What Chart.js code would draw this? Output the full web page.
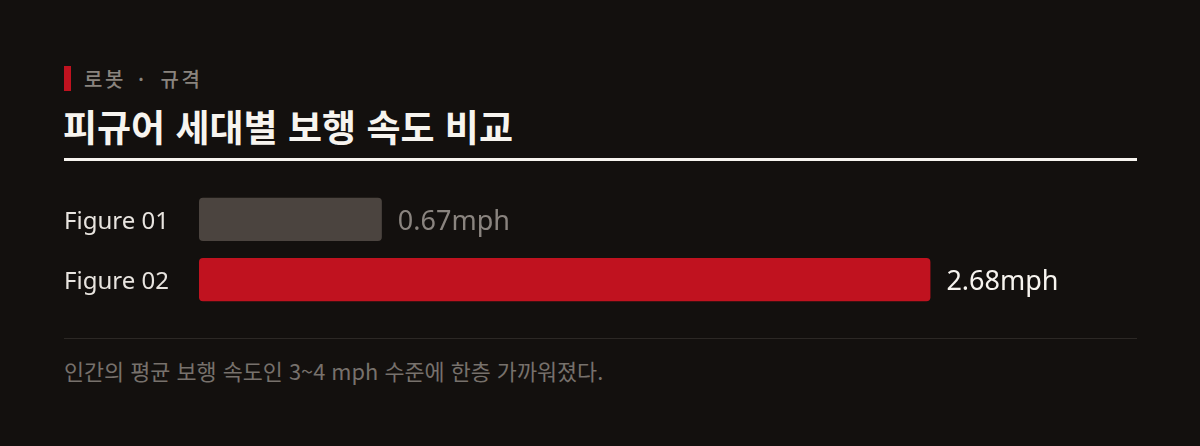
<!DOCTYPE html>
<html lang="ko">
<head>
<meta charset="utf-8">
<script src="https://cdn.jsdelivr.net/npm/chart.js@4.4.1/dist/chart.umd.min.js"></script>
<style>
  html, body { margin: 0; padding: 0; }
  body {
    width: 1200px; height: 446px; background: #13100e; overflow: hidden;
    font-family: "Noto Sans CJK KR", "Noto Sans", sans-serif; position: relative;
  }
  .kicker { position: absolute; left: 64px; top: 66px; height: 25px; display: flex; align-items: center; }
  .kicker .mark { width: 7px; height: 25px; background: #c0121f; margin-right: 13px; }
  .kicker span { color: #8a847f; font-size: 20px; font-weight: 500; letter-spacing: 2.5px; line-height: 25px; }
  .kicker .dot { margin: 0 6px 0 4px; }
  .title { position: absolute; left: 63px; top: 106px; color: #f7f4ef; font-size: 37px; font-weight: 700; line-height: 40px; }
  .rule { position: absolute; left: 64px; top: 158px; width: 1073px; height: 3px; background: #f7f4ef; }
  .chartBox { position: absolute; left: 64px; top: 175px; width: 1073px; height: 149px; }
  .divider { position: absolute; left: 64px; top: 338px; width: 1073px; height: 1px; background: #2c2825; }
  .note { position: absolute; left: 64px; top: 357px; color: #77716c; font-size: 21.8px; line-height: 28px; }
</style>
</head>
<body>
  <div class="kicker"><div class="mark"></div><span>로봇<span class="dot"> · </span>규격</span></div>
  <div class="title">피규어 세대별 보행 속도 비교</div>
  <div class="rule"></div>
  <div class="chartBox"><canvas id="speedChart"></canvas></div>
  <div class="divider"></div>
  <div class="note">인간의 평균 보행 속도인 3~4 mph 수준에 한층 가까워졌다.</div>

<script>
// data
const categories = ['Figure 01', 'Figure 02'];
const speedValues = [0.67, 2.68];
const valueLabels = ['0.67mph', '2.68mph'];
const barColors = ['#4b443f', '#c0121f'];
const valueColors = ['#8a847f', '#f7f4ef'];

const LATIN = '"Noto Sans", "Noto Sans CJK KR", sans-serif';

// draws "0.67mph" etc. right after each bar
const valueLabelPlugin = {
  id: 'valueLabels',
  afterDatasetsDraw(chart) {
    const ctx = chart.ctx;
    const meta = chart.getDatasetMeta(0);
    ctx.save();
    ctx.font = '27px ' + LATIN;
    ctx.textBaseline = 'middle';
    meta.data.forEach((bar, i) => {
      ctx.fillStyle = valueColors[i];
      ctx.fillText(valueLabels[i], bar.x + 16, bar.y + 3);
    });
    ctx.restore();
  }
};

const ctx = document.getElementById('speedChart');
new Chart(ctx, {
  type: 'bar',
  data: {
    labels: categories,
    datasets: [{
      data: speedValues,
      backgroundColor: barColors,
      borderRadius: 4,
      borderSkipped: false,
      barPercentage: 0.72,
      categoryPercentage: 1.0,
    }],
  },
  options: {
    indexAxis: 'y',
    responsive: true,
    maintainAspectRatio: false,
    animation: false,
    layout: { padding: 0 },
    plugins: {
      legend: { display: false },
      tooltip: { enabled: false },
    },
    scales: {
      x: {
        min: 0,
        max: 3.437,
        display: false,
      },
      y: {
        grid: { display: false },
        border: { display: false },
        ticks: {
          color: '#e8e4df',
          font: { family: LATIN, size: 24 },
          crossAlign: 'far',
          padding: 0,
          labelOffset: 3,
        },
        afterFit(scale) { scale.width = 135; },
      },
    },
  },
  plugins: [valueLabelPlugin],
});
</script>
</body>
</html>
